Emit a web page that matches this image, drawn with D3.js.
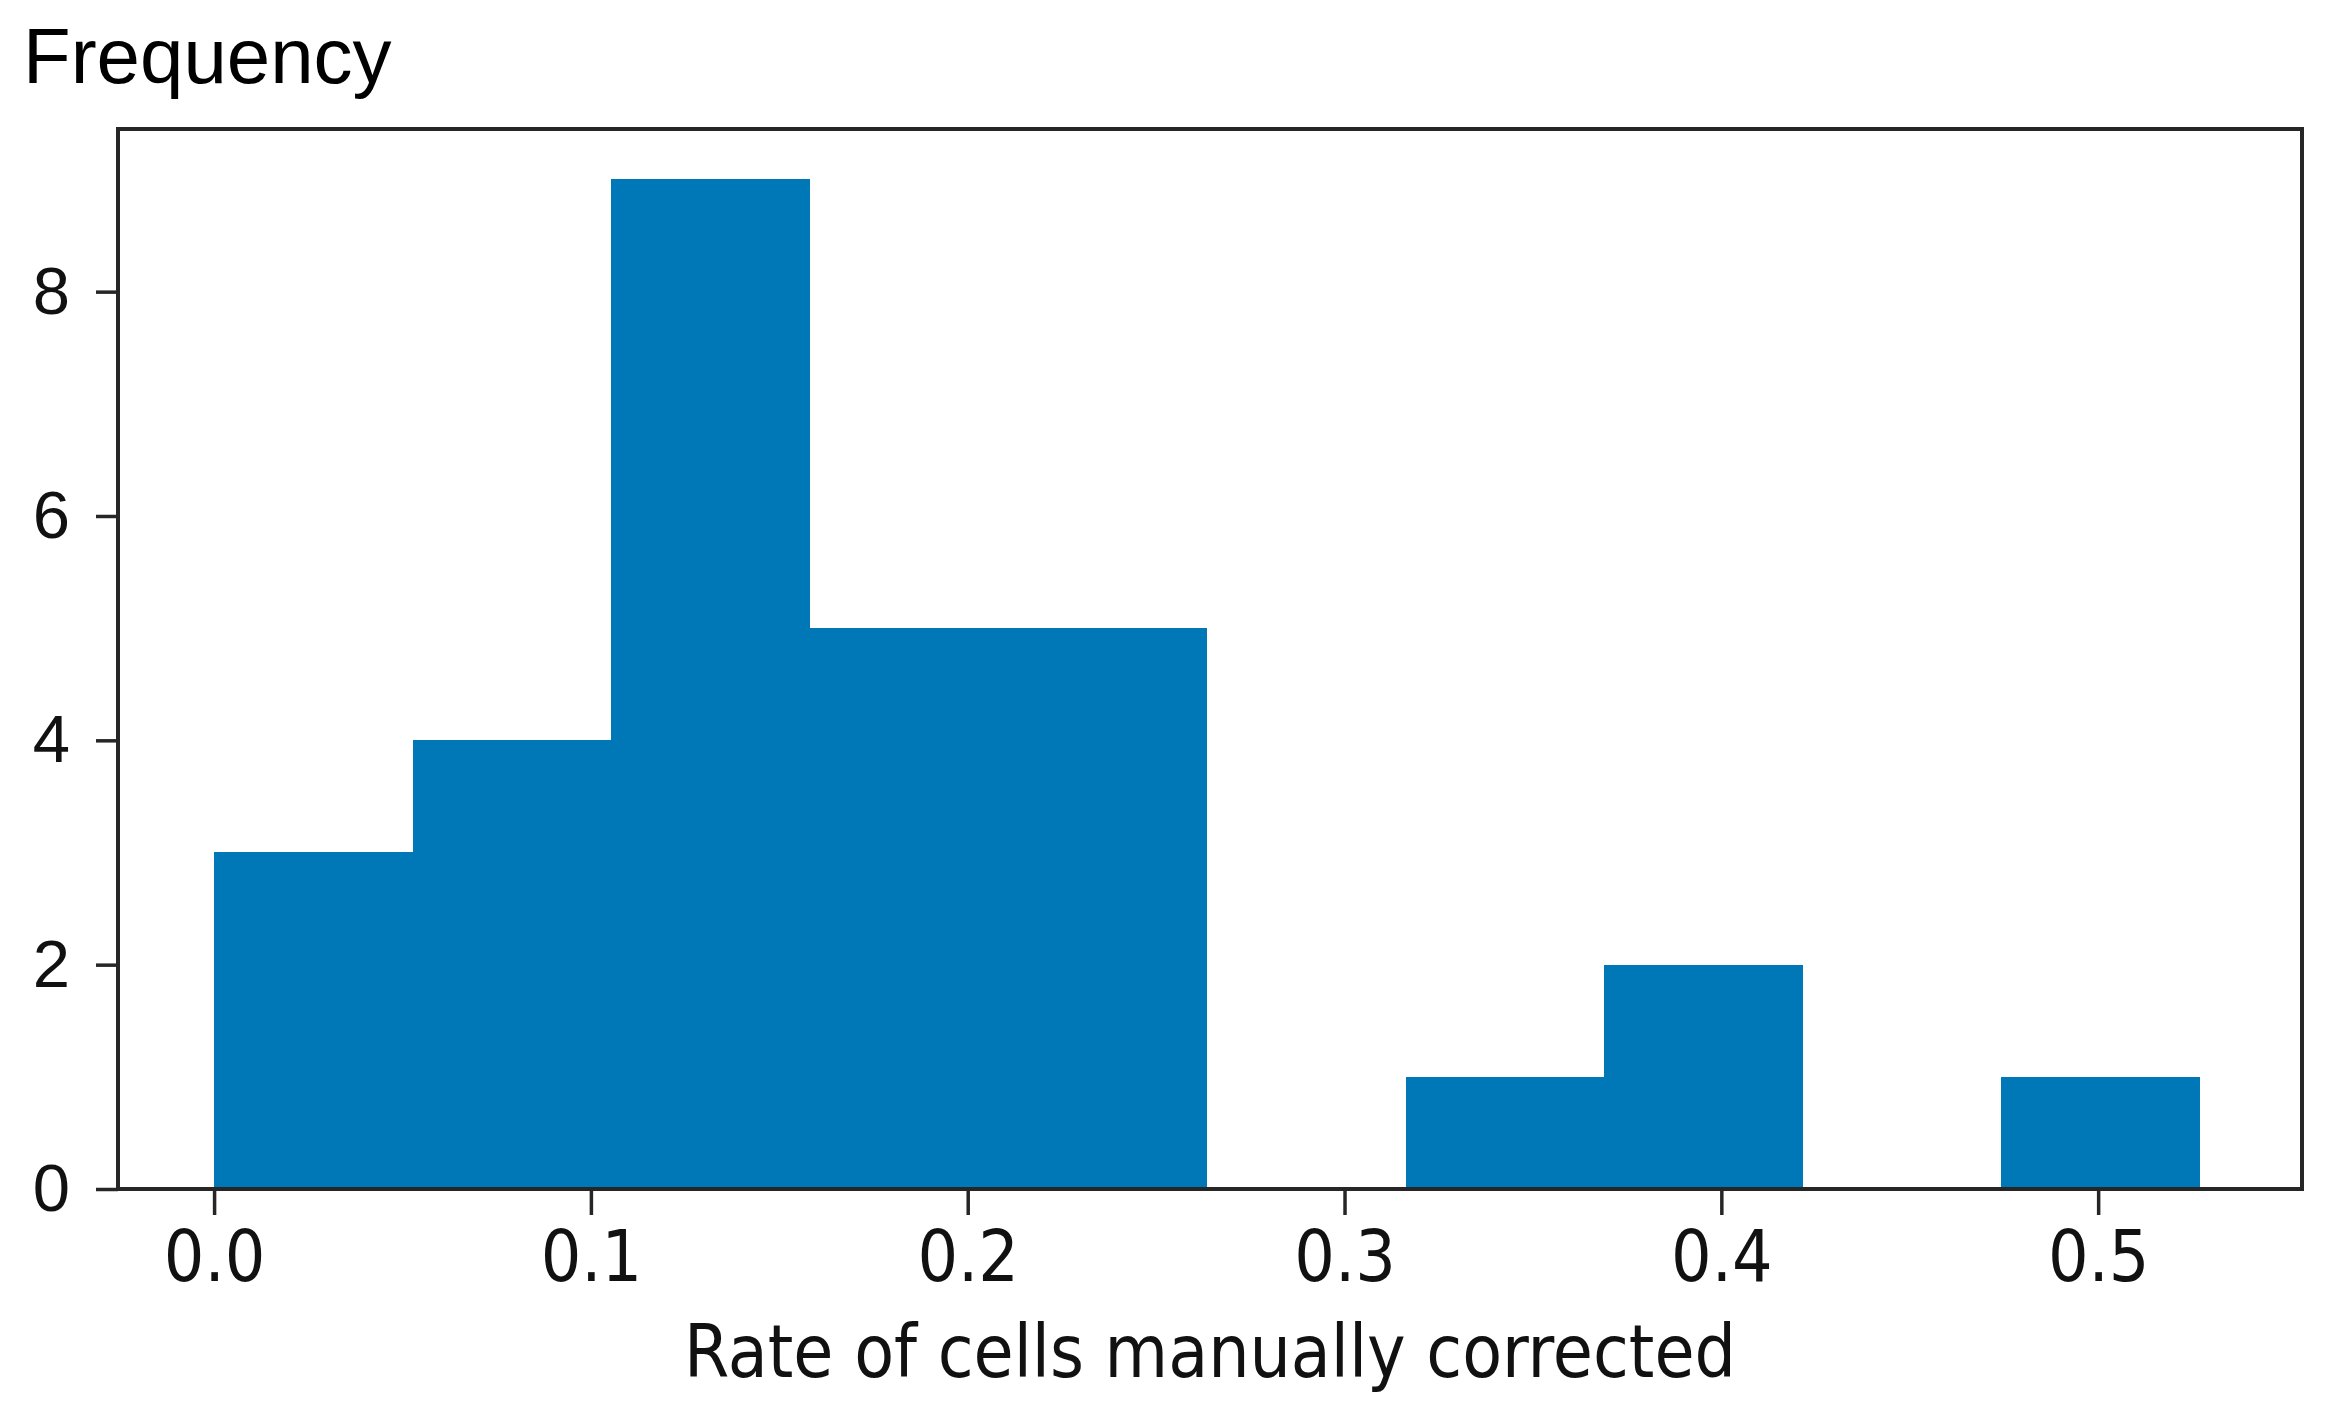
<!DOCTYPE html>
<html>
<head>
<meta charset="utf-8">
<script src="https://cdn.jsdelivr.net/npm/d3@7"></script>
<style>
  html, body { margin: 0; padding: 0; background: #fff; }
  svg { display: block; }
</style>
</head>
<body>
<svg id="chart" width="2331" height="1415"></svg>
<script>
// ---- Data ----
const binEdges = [0.0, 0.0527, 0.1054, 0.1581, 0.2108, 0.2635, 0.3162, 0.3689, 0.4216, 0.4743, 0.527];
const counts = [3, 4, 9, 5, 5, 0, 1, 2, 0, 1];
const xTicks = [0.0, 0.1, 0.2, 0.3, 0.4, 0.5];
const yTicks = [0, 2, 4, 6, 8];
const xDomain = [-0.0255, 0.5541];
const yDomain = [0, 9.45];
const xLabel = "Rate of cells manually corrected";
const yLabel = "Frequency";

// ---- Layout ----
const W = 2331, H = 1415;
const margin = { left: 118, right: 29, top: 129, bottom: 226 };
const barColor = "#0077b6";
const axisColor = "#262626";

const svg = d3.select("#chart");
const x = d3.scaleLinear().domain(xDomain).range([margin.left, W - margin.right]);
const y = d3.scaleLinear().domain(yDomain).range([H - margin.bottom, margin.top]);

const bins = counts.map((c, i) => ({ x0: binEdges[i], x1: binEdges[i + 1], count: c }));

// Bars
svg.append("g").selectAll("rect")
  .data(bins.filter(d => d.count > 0))
  .join("rect")
  .attr("x", d => x(d.x0))
  .attr("width", d => x(d.x1) - x(d.x0))
  .attr("y", d => y(d.count))
  .attr("height", d => y(0) - y(d.count))
  .attr("fill", barColor)
  .attr("shape-rendering", "crispEdges");

// X axis
const xAxis = svg.append("g")
  .attr("transform", `translate(0,${y(0)})`)
  .call(d3.axisBottom(x).tickValues(xTicks).tickFormat(d3.format(".1f")).tickSize(26).tickPadding(16));
xAxis.select(".domain").remove();
xAxis.selectAll(".tick line").attr("stroke", axisColor).attr("stroke-width", 3.5);
xAxis.selectAll(".tick text")
  .attr("fill", "#111")
  .style("font-family", "'DejaVu Sans Condensed', 'DejaVu Sans', sans-serif")
  .style("font-stretch", "condensed")
  .style("font-size", "71px");

// Y axis
const yAxis = svg.append("g")
  .attr("transform", `translate(${x(xDomain[0])},0)`)
  .call(d3.axisLeft(y).tickValues(yTicks).tickFormat(d3.format("d")).tickSize(22).tickPadding(26));
yAxis.select(".domain").remove();
yAxis.selectAll(".tick line").attr("stroke", axisColor).attr("stroke-width", 3.5);
yAxis.selectAll(".tick text")
  .attr("fill", "#111")
  .style("font-family", "'Liberation Sans', Arial, sans-serif")
  .style("font-size", "67px");

// Frame
svg.append("rect")
  .attr("x", x(xDomain[0]))
  .attr("y", y(yDomain[1]))
  .attr("width", x(xDomain[1]) - x(xDomain[0]))
  .attr("height", y(yDomain[0]) - y(yDomain[1]))
  .attr("fill", "none")
  .attr("stroke", axisColor)
  .attr("stroke-width", 4);

// X label
svg.append("text")
  .attr("x", (x(xDomain[0]) + x(xDomain[1])) / 2)
  .attr("y", 1377)
  .attr("text-anchor", "middle")
  .attr("fill", "#111")
  .style("font-family", "'DejaVu Sans Condensed', 'DejaVu Sans', sans-serif")
  .style("font-stretch", "condensed")
  .style("font-size", "72.5px")
  .text(xLabel);

// Y label (above axis)
svg.append("text")
  .attr("x", 23)
  .attr("y", 83)
  .attr("fill", "#000")
  .style("font-family", "'Liberation Sans', Arial, sans-serif")
  .style("font-size", "78px")
  .text(yLabel);
</script>
</body>
</html>
